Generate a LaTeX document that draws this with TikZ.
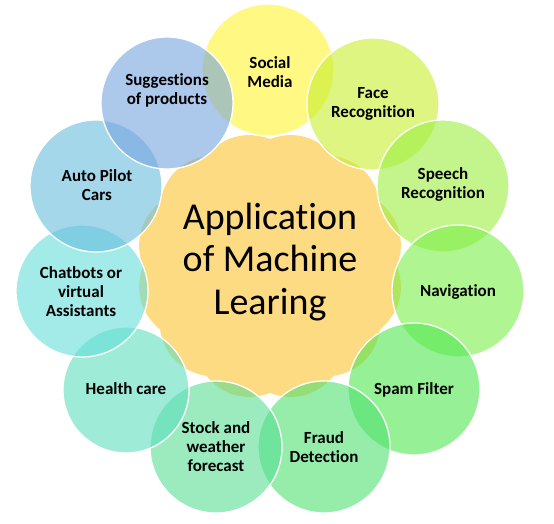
\documentclass[tikz,border=0pt]{standalone}
\usepackage{fontspec}
\setmainfont{Carlito}[Ligatures=NoCommon]
\usetikzlibrary{calc}
\definecolor{cCenter}{RGB}{253,219,130}
\definecolor{cSocial}{RGB}{255,245,50}
\definecolor{cFace}{RGB}{200,238,47}
\definecolor{cSpeech}{RGB}{155,238,63}
\definecolor{cNav}{RGB}{122,238,72}
\definecolor{cSpam}{RGB}{80,230,80}
\definecolor{cFraud}{RGB}{80,225,113}
\definecolor{cStock}{RGB}{88,222,147}
\definecolor{cHealth}{RGB}{93,222,188}
\definecolor{cChat}{RGB}{102,222,217}
\definecolor{cAuto}{RGB}{105,188,222}
\definecolor{cSugg}{RGB}{117,163,222}
\begin{document}
\begin{tikzpicture}[x=1pt,y=1pt,
  bub/.style={circle, minimum size=132pt, inner sep=0pt, fill opacity=0.6, draw=white, draw opacity=1, line width=1.3pt},
  lbl/.style={font=\bfseries\fontsize{17}{19}\selectfont, align=center, text=black, inner sep=0pt},
  mainlbl/.style={font=\fontsize{38}{42.5}\selectfont, align=center, text=black, inner sep=0pt}]
\useasboundingbox (0,0) rectangle (554,524);
% central scalloped shape
\coordinate (c) at (270,258);
\fill[cCenter] ($(c)+(0:127)$) \foreach \k in {1,...,12} { to[bend right=35] ($(c)+(\k*30:127)$) } -- cycle;
% bubbles, bottom to top
\node[bub, fill=cSocial] (social) at (268,454) {};
\node[bub, fill=cFace]   (face)   at (373,420) {};
\node[bub, fill=cSpeech] (speech) at (443,338) {};
\node[bub, fill=cNav]    (nav)    at (458,233) {};
\node[bub, fill=cSpam]   (spam)   at (414,135) {};
\node[bub, fill=cFraud]  (fraud)  at (324,77)  {};
\node[bub, fill=cStock]  (stock)  at (216,77)  {};
\node[bub, fill=cHealth, minimum size=126pt] (health) at (126,134) {};
\node[bub, fill=cChat]   (chat)   at (82,233)  {};
\node[bub, fill=cAuto]   (auto)   at (96,338)  {};
\node[bub, fill=cSugg]   (sugg)   at (167,421) {};
% labels
\node[mainlbl] (mainText) at (270,262) {Application\\of Machine\\Learing};
\node[lbl] (tSocial) at ($(social.center)+(2,-2)$) {Social\\Media};
\node[lbl] (tFace)   at (face.center) {Face\\Recognition};
\node[lbl] (tSpeech) at ($(speech.center)+(0,2)$) {Speech\\Recognition};
\node[lbl] (tNav)    at ($(nav.center)+(0,-1)$) {Navigation};
\node[lbl] (tSpam)   at ($(spam.center)+(0,-1)$) {Spam Filter};
\node[lbl] (tFraud)  at (fraud.center) {Fraud\\Detection};
\node[lbl] (tStock)  at (stock.center) {Stock and\\weather\\forecast};
\node[lbl] (tHealth) at ($(health.center)+(0,1)$) {Health care};
\node[lbl] (tChat)   at ($(chat.center)+(-1,-1)$) {Chatbots or\\virtual\\Assistants};
\node[lbl] (tAuto)   at ($(auto.center)+(1,1)$) {Auto Pilot\\Cars};
\node[lbl] (tSugg)   at ($(sugg.center)+(0,13)$) {Suggestions\\of products};
\end{tikzpicture}
\end{document}
